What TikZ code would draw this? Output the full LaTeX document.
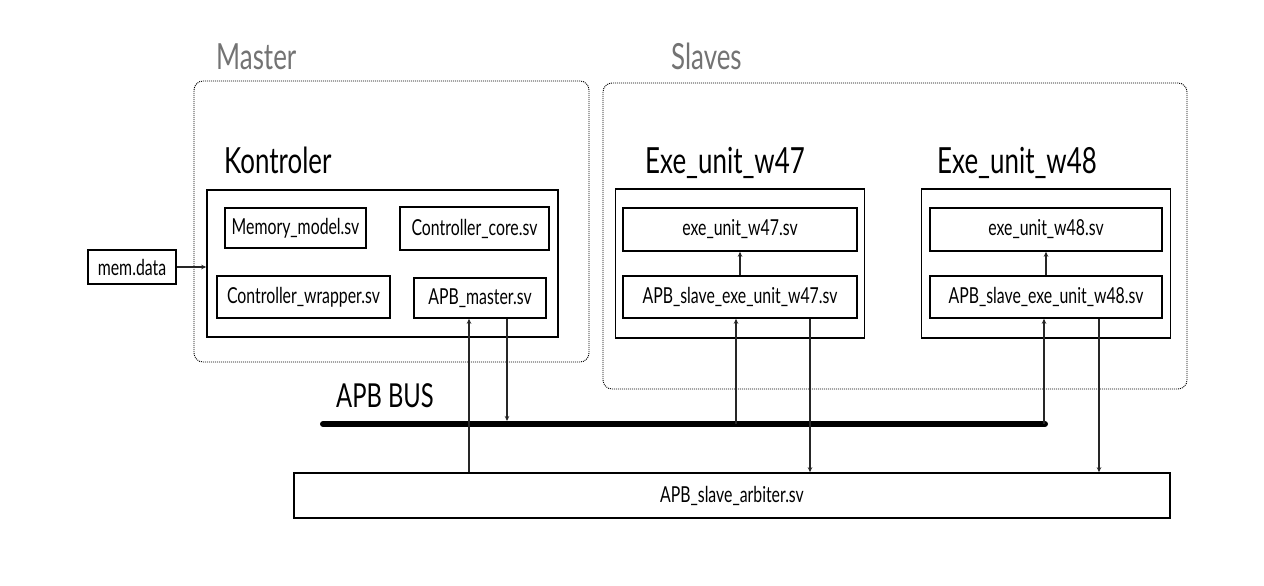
\documentclass[tikz,border=0pt]{standalone}
\usepackage{fontspec}
\setmainfont{Lato}[FakeStretch=0.72]
\usetikzlibrary{positioning,arrows.meta}

\begin{document}
\begin{tikzpicture}[x=1pt,y=-1pt,
    >={Stealth[length=5pt,width=4.5pt]},
    file node/.style={draw,line width=1.6pt,inner sep=0pt,font=\fontsize{22}{26}\selectfont},
    unit node/.style={draw,line width=1.6pt,minimum width=249pt,minimum height=149pt},
    group node/.style={draw,line width=0.9pt,dash pattern=on 1pt off 1pt,rounded corners=9pt},
    title node/.style={anchor=base west,inner sep=0pt,font=\fontsize{36}{42}\selectfont},
    wire/.style={line width=1.3pt,draw=black!85,->},
    bus/.style={line width=6pt,line cap=round}]

  \useasboundingbox (0,0) rectangle (1264,586);

  % groups
  \node[group node,minimum width=395pt,minimum height=281pt] (master) at (391.5,221.5) {};
  \node[group node,minimum width=584pt,minimum height=306pt] (slaves) at (895,236) {};
  \node[title node,text=black!55] (master title) at (216,70) {Master};
  \node[title node,text=black!55] (slaves title) at (671,70) {Slaves};

  % controller
  \node[title node] (kontroler title) at (224,173) {Kontroler};
  \node[draw,line width=1.6pt,minimum width=351pt,minimum height=147pt] (kontroler) at (382.5,263.5) {};
  \node[file node,minimum width=141pt,minimum height=40pt] (memmodel) at (295.5,228) {Memory\_model.sv};
  \node[file node,minimum width=149pt,minimum height=43pt] (ctrlcore) at (474.5,228.5) {Controller\_core.sv};
  \node[file node,minimum width=173pt,minimum height=42pt] (wrapper) at (303.5,297) {Controller\_wrapper.sv};
  \node[file node,minimum width=132pt,minimum height=40pt] (apbmaster) at (480,298) {APB\_master.sv};
  \node[file node,minimum width=88pt,minimum height=34pt] (memdata) at (132,267) {mem.data};

  % slaves
  \node[title node] (w47 title) at (645,173) {Exe\_unit\_w47};
  \node[unit node] (w47) at (740,263.5) {};
  \node[file node,minimum width=234pt,minimum height=43pt] (exe47) at (740,229.5) {exe\_unit\_w47.sv};
  \node[file node,minimum width=234pt,minimum height=42pt] (slave47) at (740,297) {APB\_slave\_exe\_unit\_w47.sv};

  \node[title node] (w48 title) at (937,173) {Exe\_unit\_w48};
  \node[unit node] (w48) at (1046,263.5) {};
  \node[file node,minimum width=232pt,minimum height=43pt] (exe48) at (1046,229.5) {exe\_unit\_w48.sv};
  \node[file node,minimum width=232pt,minimum height=42pt] (slave48) at (1046,297) {APB\_slave\_exe\_unit\_w48.sv};

  % bus and arbiter
  \node[title node,font=\fontsize{33}{39}\selectfont] (bus title) at (336,407) {APB BUS};
  \coordinate (busL) at (323,424);
  \coordinate (busR) at (1045,424);
  \draw[bus] (busL) -- (busR);
  \node[file node,minimum width=876pt,minimum height=45pt] (arbiter) at (732,495.5) {APB\_slave\_arbiter.sv};

  \coordinate (m in) at ([xshift=-11pt]apbmaster.south);
  \coordinate (m out) at ([xshift=27pt]apbmaster.south);
  \coordinate (s47 in) at ([xshift=-4pt]slave47.south);
  \coordinate (s47 out) at ([xshift=70pt]slave47.south);
  \coordinate (s48 in) at ([xshift=-2pt]slave48.south);
  \coordinate (s48 out) at ([xshift=53pt]slave48.south);

  \draw[wire] (memdata) -- (memdata -| kontroler.west);
  \draw[wire] (m in |- arbiter.north) -- (m in);
  \draw[wire,shorten >=3pt] (m out) -- (m out |- busL);
  \draw[wire] (s47 in |- busL) -- (s47 in);
  \draw[wire] (s47 out) -- (s47 out |- arbiter.north);
  \draw[wire] (s48 in |- busR) -- (s48 in);
  \draw[wire] (s48 out) -- (s48 out |- arbiter.north);
  \draw[wire] (slave47) -- (exe47);
  \draw[wire] (slave48) -- (exe48);
\end{tikzpicture}
\end{document}
